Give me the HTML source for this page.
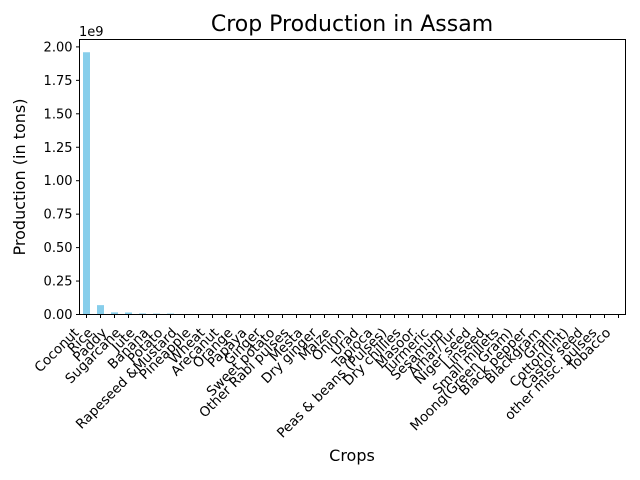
<!DOCTYPE html>
<html><head><meta charset="utf-8"><style>
body{margin:0;background:#fff;}
svg{display:block;font-family:"DejaVu Sans","Liberation Sans",sans-serif;}
</style></head><body>
<svg id="chart" width="640" height="480">
<text x="352" y="31" font-size="22" text-anchor="middle">Crop Production in Assam</text>
<text x="352" y="461" font-size="16" text-anchor="middle">Crops</text>
<text transform="translate(25,177) rotate(-90)" font-size="16" text-anchor="middle">Production (in tons)</text>
<text x="79" y="36" font-size="13">1e9</text>
<g id="bars"></g><g id="yaxis"></g><g id="xaxis"></g>
<rect x="79.5" y="39.5" width="546" height="275" fill="none" stroke="#000" stroke-width="1"/>
</svg>
<script>
const categories=["Coconut","Rice","Paddy","Sugarcane","Jute","Banana","Potato","Rapeseed &Mustard","Pineapple","Wheat","Arecanut","Orange","Papaya","Ginger","Sweet potato","Other  Rabi pulses","Mesta","Dry ginger","Maize","Onion","Urad","Tapioca","Peas & beans (Pulses)","Dry chillies","Masoor","Turmeric","Sesamum","Arhar/Tur","Niger seed","Linseed","Small millets","Moong(Green Gram)","Black pepper","Blackgram","Gram","Cotton(lint)","Castor seed","other misc. pulses","Tobacco"];
const production=[1.96e9,7.0e7,1.6e7,1.5e7,8e6,7e6,7e6,3e6,3e6,2e6,2e6,1.5e6,1.2e6,1e6,9e5,8e5,7e5,6e5,5e5,4e5,3e5,3e5,2.5e5,2e5,1.8e5,1.5e5,1.2e5,1e5,9e4,8e4,6e4,5e4,4e4,3e4,2e4,1.5e4,1e4,5e3,2e3];
const yTicks=[0,0.25,0.5,0.75,1.0,1.25,1.5,1.75,2.0];
const yTickLabels=["0.00","0.25","0.50","0.75","1.00","1.25","1.50","1.75","2.00"];
const NS="http://www.w3.org/2000/svg";
const L=79.5,R=625.5,T=39.5,B=314.5;
const yMax=275/133.8;
const y=v=>B-(v/1e9)/yMax*(B-T);
const step=(R-L)/categories.length;
const x=i=>L+step*(i+0.5);
function mk(t,a,p){const e=document.createElementNS(NS,t);for(const k in a)e.setAttribute(k,a[k]);p.appendChild(e);return e;}
const gb=document.getElementById('bars'),gy=document.getElementById('yaxis'),gx=document.getElementById('xaxis');
production.forEach((v,i)=>{
 const r=mk('rect',{x:x(i)-step/4,y:y(v),width:step/2,height:B-y(v),fill:'#87ceeb'},gb);
 
 
});
yTicks.forEach((t,i)=>{
 const yy=y(t*1e9);
 const l=mk('line',{x1:L-3.5,x2:L,y1:yy,y2:yy,stroke:'#000'},gy);
 
 
 const tx=mk('text',{x:L-7,y:yy+4.5,'font-size':13,'text-anchor':'end'},gy);
 tx.textContent=yTickLabels[i];
 
 
});
categories.forEach((c,i)=>{
 const xx=x(i);
 const l=mk('line',{x1:xx,x2:xx,y1:B,y2:B+3.5,stroke:'#000'},gx);
 
 
 const tx=mk('text',{transform:`translate(${xx-7},${B+19}) rotate(-45)`,'font-size':13.5,'text-anchor':'end'},gx);
 tx.textContent=c;
 
 
});
</script>
</body></html>
